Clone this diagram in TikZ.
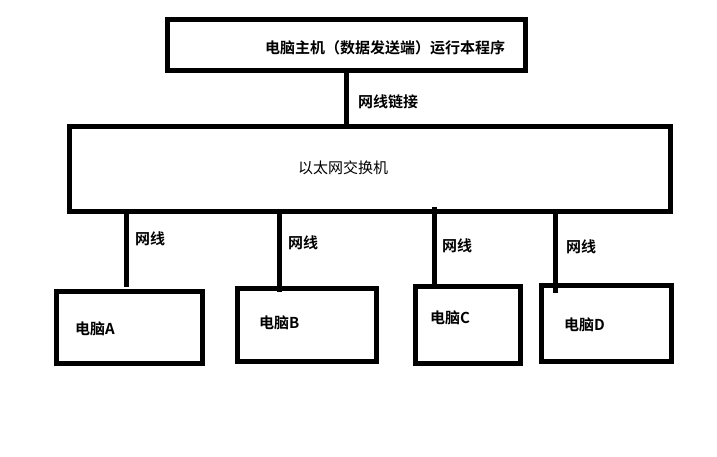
\documentclass[tikz,border=0pt]{standalone}
\usepackage{fontspec}
\setmainfont{Noto Sans CJK SC}[BoldFont={Noto Sans CJK SC Bold}]
\begin{document}
\begin{tikzpicture}[x=1pt,y=-1pt,
  box/.style={draw=black,line width=5pt,rectangle,inner sep=0pt,outer sep=0pt},
  wire/.style={draw=black,line width=5pt},
  lbl/.style={anchor=west,inner sep=0pt,font=\fontsize{15pt}{18pt}\selectfont\bfseries},
  lblr/.style={anchor=west,inner sep=0pt,font=\fontsize{15pt}{18pt}\selectfont}]
\useasboundingbox[fill=white] (0,0) rectangle (717,456);
% boxes
\node[box,minimum width=358pt,minimum height=51.5pt] (top) at (346.6,45) {};
\node[box,minimum width=601pt,minimum height=85pt] (switch) at (370,169) {};
\node[box,minimum width=146pt,minimum height=71.5pt] (pcA) at (129.5,327.25) {};
\node[box,minimum width=139pt,minimum height=73pt] (pcB) at (307,325) {};
\node[box,minimum width=105pt,minimum height=76.5pt] (pcC) at (468,324.75) {};
\node[box,minimum width=130pt,minimum height=76pt] (pcD) at (606.5,323.5) {};
% texts
\node[lbl] (ttop) at (265,48) {电脑主机（数据发送端）运行本程序};
\node[lbl] (tlink) at (358,102) {网线链接};
\node[lblr] (tsw) at (298,168) {以太网交换机};
\node[lbl] (wa) at (135,239) {网线};
\node[lbl] (wb) at (288,243) {网线};
\node[lbl] (wc) at (442,246) {网线};
\node[lbl] (wd) at (566,247) {网线};
\node[lbl] (ta) at (75,329) {电脑A};
\node[lbl] (tb) at (259,323) {电脑B};
\node[lbl] (tc) at (430,318) {电脑C};
\node[lbl] (td) at (564,325) {电脑D};
% connectors
\coordinate (ea) at (126.5,287);
\coordinate (eb) at (279.5,291.5);
\coordinate (sc) at (434,207);
\coordinate (ed) at (555,293);
\draw[wire] (top.south) -- (top.south |- switch.north);
\draw[wire] (switch.south -| ea) -- (ea);
\draw[wire] (switch.south -| eb) -- (eb);
\draw[wire] (sc) -- (sc |- pcC.north);
\draw[wire] (switch.south -| ed) -- (ed);
\end{tikzpicture}
\end{document}
